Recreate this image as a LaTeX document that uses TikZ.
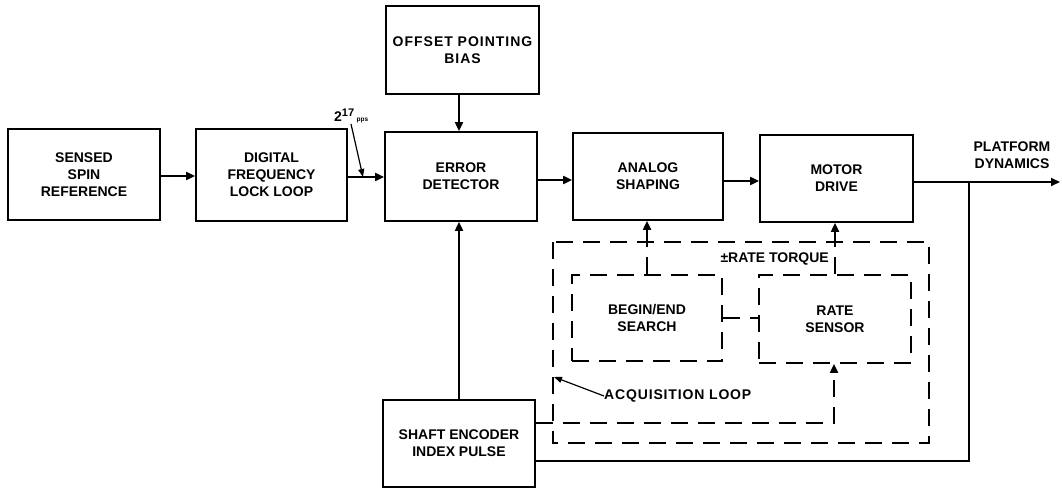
\documentclass[tikz,border=0pt]{standalone}
\usepackage{fontspec}
\setmainfont{Liberation Sans}
\usetikzlibrary{arrows.meta}
\tikzset{
  txt/.style={font=\fontsize{14}{17}\selectfont\bfseries, align=center},
  blk/.style={txt, draw, line width=1.7pt, inner sep=0pt},
  dblk/.style={blk, dash pattern=on 17pt off 10pt},
  ln/.style={line width=1.8pt},
  dln/.style={line width=1.8pt, dash pattern=on 17pt off 10pt},
  arr/.style={ln, -{Triangle[length=9pt,width=8pt]}},
  darr/.style={dln, -{Triangle[length=9pt,width=8pt]}},
  lbl/.style={txt, inner sep=0pt},
  thin/.style={line width=1.2pt, -{Triangle[length=8pt,width=6pt]}}
}
\begin{document}
\begin{tikzpicture}[x=1pt,y=-1pt]
\useasboundingbox (0,0) rectangle (1062,489);

% solid blocks
\node[blk, minimum width=152pt, minimum height=91pt] (spin) at (84,174.5) {SENSED\\SPIN\\REFERENCE};
\node[blk, minimum width=151pt, minimum height=92pt] (dfll) at (271.5,175) {DIGITAL\\FREQUENCY\\LOCK LOOP};
\node[blk, minimum width=152pt, minimum height=89pt] (err) at (461,176.5) {ERROR\\DETECTOR};
\node[blk, minimum width=153pt, minimum height=88pt] (bias) at (462.5,50) {\addfontfeature{LetterSpace=7}OFFSET POINTING\\\addfontfeature{LetterSpace=7}BIAS};
\node[blk, minimum width=150pt, minimum height=87pt] (analog) at (648,176.5) {ANALOG\\SHAPING};
\node[blk, minimum width=153pt, minimum height=87pt] (motor) at (836.5,178.5) {MOTOR\\DRIVE};
\node[blk, minimum width=152pt, minimum height=87pt] (enc) at (459,443.5) {SHAFT ENCODER\\INDEX PULSE};

% dashed blocks
\node[dblk, minimum width=150pt, minimum height=86pt] (search) at (647,318) {BEGIN/END\\SEARCH};
\node[dblk, minimum width=152pt, minimum height=88pt] (rate) at (835,319) {RATE\\SENSOR};

% outer dashed loop box
\draw[dln] (553,242) rectangle (929,443);

% forward path
\draw[arr] (spin.east |- 0,176) -- (dfll.west |- 0,176);
\draw[arr] (dfll.east |- 0,177) -- (err.west |- 0,177);
\draw[arr] (bias.south -| 459,0) -- (err.north -| 459,0);
\draw[arr] (err.east |- 0,180) -- (analog.west |- 0,180);
\draw[arr] (analog.east |- 0,181) -- (motor.west |- 0,181);
\coordinate (out) at (1060,182);
\coordinate (tap) at (969,182);
\draw[arr] (motor.east |- out) -- (out);
\node[lbl] (plat) at (1012,155) {PLATFORM\\DYNAMICS};

% feedback to shaft encoder
\draw[ln] (tap) -- (tap |- 0,461) -- (enc.east |- 0,461);
\draw[arr] (enc.north -| 459,0) -- (err.south -| 459,0);

% 2^17 pps
\node[txt, inner sep=0pt, anchor=base west] (pps) at (334,122) {2{\fontsize{11}{12}\selectfont\raisebox{5pt}{17}}\,{\fontsize{6.5}{7}\selectfont pps}};
\coordinate (ppsjoin) at (363,177);
\draw[thin] (351,124) -- (ppsjoin);

% acquisition loop paths
\draw[darr] (search.north) -- (analog.south -| search.north);
\draw[darr] (rate.north) -- (motor.south -| rate.north);
\draw[dln] (search.east) -- (rate.west |- search.east);
\draw[darr] (enc.east |- 0,423) -- (834,423) -- (rate.south -| 834,0);

% labels
\node[lbl, anchor=base east] (torque) at (829,262) {±RATE TORQUE};
\node[lbl, anchor=west] (acq) at (604,396) {\addfontfeature{LetterSpace=6}ACQUISITION LOOP};
\coordinate (acqtip) at (554,377);
\draw[thin] (acq.west) -- (acqtip);
\end{tikzpicture}
\end{document}
